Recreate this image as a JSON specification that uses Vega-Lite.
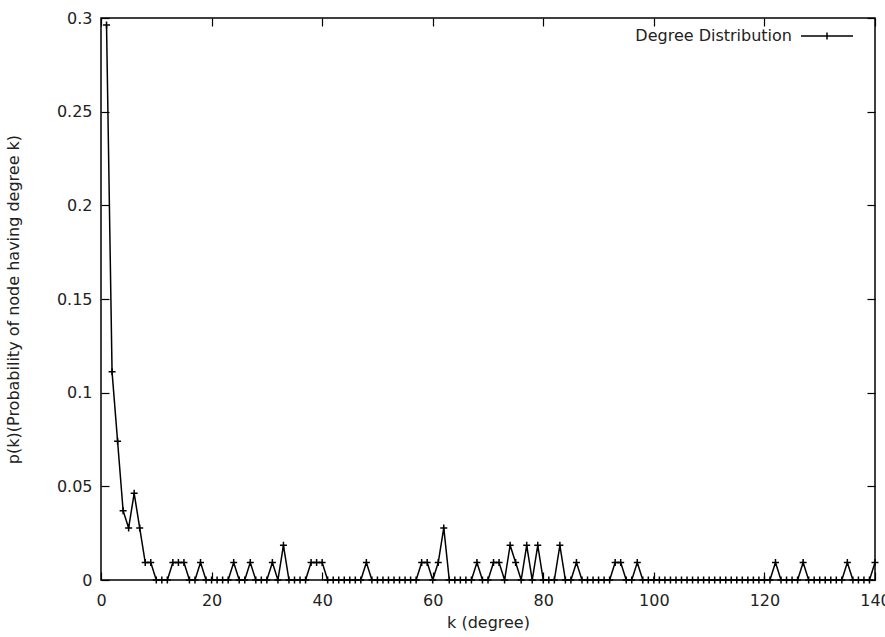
{
  "$schema": "https://vega.github.io/schema/vega-lite/v6.json",
  "width": 774,
  "height": 562,
  "autosize": "none",
  "padding": {"left": 101, "top": 18, "right": 10, "bottom": 57},
  "background": "white",
  "config": {
    "font": "DejaVu Sans",
    "view": {"stroke": "#000", "strokeWidth": 1.5},
    "axis": {
      "labelFontSize": 16,
      "titleFontSize": 16,
      "titleFontWeight": "normal",
      "labelColor": "#222",
      "titleColor": "#222",
      "tickColor": "#000",
      "tickWidth": 1.2,
      "grid": false,
      "domain": false,
      "labelFlush": false
    },
    "legend": {"labelFontSize": 16, "labelColor": "#222"}
  },
  "data": {
    "values": [
      {"k": 1, "p": 0.2963}, {"k": 2, "p": 0.1111}, {"k": 3, "p": 0.0741}, {"k": 4, "p": 0.0370},
      {"k": 5, "p": 0.0278}, {"k": 6, "p": 0.0463}, {"k": 7, "p": 0.0278}, {"k": 8, "p": 0.0093},
      {"k": 9, "p": 0.0093}, {"k": 10, "p": 0}, {"k": 11, "p": 0}, {"k": 12, "p": 0},
      {"k": 13, "p": 0.0093}, {"k": 14, "p": 0.0093}, {"k": 15, "p": 0.0093}, {"k": 16, "p": 0},
      {"k": 17, "p": 0}, {"k": 18, "p": 0.0093}, {"k": 19, "p": 0}, {"k": 20, "p": 0},
      {"k": 21, "p": 0}, {"k": 22, "p": 0}, {"k": 23, "p": 0}, {"k": 24, "p": 0.0093},
      {"k": 25, "p": 0}, {"k": 26, "p": 0}, {"k": 27, "p": 0.0093}, {"k": 28, "p": 0},
      {"k": 29, "p": 0}, {"k": 30, "p": 0}, {"k": 31, "p": 0.0093}, {"k": 32, "p": 0},
      {"k": 33, "p": 0.0185}, {"k": 34, "p": 0}, {"k": 35, "p": 0}, {"k": 36, "p": 0},
      {"k": 37, "p": 0}, {"k": 38, "p": 0.0093}, {"k": 39, "p": 0.0093}, {"k": 40, "p": 0.0093},
      {"k": 41, "p": 0}, {"k": 42, "p": 0}, {"k": 43, "p": 0}, {"k": 44, "p": 0},
      {"k": 45, "p": 0}, {"k": 46, "p": 0}, {"k": 47, "p": 0}, {"k": 48, "p": 0.0093},
      {"k": 49, "p": 0}, {"k": 50, "p": 0}, {"k": 51, "p": 0}, {"k": 52, "p": 0},
      {"k": 53, "p": 0}, {"k": 54, "p": 0}, {"k": 55, "p": 0}, {"k": 56, "p": 0},
      {"k": 57, "p": 0}, {"k": 58, "p": 0.0093}, {"k": 59, "p": 0.0093}, {"k": 60, "p": 0},
      {"k": 61, "p": 0.0093}, {"k": 62, "p": 0.0278}, {"k": 63, "p": 0}, {"k": 64, "p": 0},
      {"k": 65, "p": 0}, {"k": 66, "p": 0}, {"k": 67, "p": 0}, {"k": 68, "p": 0.0093},
      {"k": 69, "p": 0}, {"k": 70, "p": 0}, {"k": 71, "p": 0.0093}, {"k": 72, "p": 0.0093},
      {"k": 73, "p": 0}, {"k": 74, "p": 0.0185}, {"k": 75, "p": 0.0093}, {"k": 76, "p": 0},
      {"k": 77, "p": 0.0185}, {"k": 78, "p": 0}, {"k": 79, "p": 0.0185}, {"k": 80, "p": 0},
      {"k": 81, "p": 0}, {"k": 82, "p": 0}, {"k": 83, "p": 0.0185}, {"k": 84, "p": 0},
      {"k": 85, "p": 0}, {"k": 86, "p": 0.0093}, {"k": 87, "p": 0}, {"k": 88, "p": 0},
      {"k": 89, "p": 0}, {"k": 90, "p": 0}, {"k": 91, "p": 0}, {"k": 92, "p": 0},
      {"k": 93, "p": 0.0093}, {"k": 94, "p": 0.0093}, {"k": 95, "p": 0}, {"k": 96, "p": 0},
      {"k": 97, "p": 0.0093}, {"k": 98, "p": 0}, {"k": 99, "p": 0}, {"k": 100, "p": 0},
      {"k": 101, "p": 0}, {"k": 102, "p": 0}, {"k": 103, "p": 0}, {"k": 104, "p": 0},
      {"k": 105, "p": 0}, {"k": 106, "p": 0}, {"k": 107, "p": 0}, {"k": 108, "p": 0},
      {"k": 109, "p": 0}, {"k": 110, "p": 0}, {"k": 111, "p": 0}, {"k": 112, "p": 0},
      {"k": 113, "p": 0}, {"k": 114, "p": 0}, {"k": 115, "p": 0}, {"k": 116, "p": 0},
      {"k": 117, "p": 0}, {"k": 118, "p": 0}, {"k": 119, "p": 0}, {"k": 120, "p": 0},
      {"k": 121, "p": 0}, {"k": 122, "p": 0.0093}, {"k": 123, "p": 0}, {"k": 124, "p": 0},
      {"k": 125, "p": 0}, {"k": 126, "p": 0}, {"k": 127, "p": 0.0093}, {"k": 128, "p": 0},
      {"k": 129, "p": 0}, {"k": 130, "p": 0}, {"k": 131, "p": 0}, {"k": 132, "p": 0},
      {"k": 133, "p": 0}, {"k": 134, "p": 0}, {"k": 135, "p": 0.0093}, {"k": 136, "p": 0},
      {"k": 137, "p": 0}, {"k": 138, "p": 0}, {"k": 139, "p": 0}, {"k": 140, "p": 0.0093}
    ]
  },
  "layer": [
    {
      "mark": {"type": "line", "stroke": "#000", "strokeWidth": 1.5, "clip": true},
      "encoding": {
        "x": {
          "field": "k", "type": "quantitative",
          "scale": {"domain": [0, 140], "nice": false, "zero": false},
          "axis": {"orient": "bottom", "values": [0, 20, 40, 60, 80, 100, 120, 140], "tickSize": -8, "labelPadding": 20, "title": "k (degree)", "titlePadding": 6}
        },
        "y": {
          "field": "p", "type": "quantitative",
          "scale": {"domain": [0, 0.3], "nice": false},
          "axis": {"orient": "left", "values": [0, 0.05, 0.1, 0.15, 0.2, 0.25, 0.3], "format": "~g", "tickSize": -8, "labelPadding": 17, "title": "p(k)(Probability of node having degree k)", "titlePadding": 35}
        },
        "color": {
          "datum": "Degree Distribution",
          "scale": {"range": ["#000"]},
          "legend": {
            "title": null,
            "orient": "none",
            "legendX": 699,
            "legendY": -9,
            "padding": 0,
            "symbolType": "M-1,0L1,0M0,-0.13L0,0.13",
            "symbolSize": 2704,
            "symbolStrokeWidth": 1.5,
            "symbolStrokeColor": "#000",
            "labelAlign": "right",
            "labelOffset": -62
          }
        }
      }
    },
    {
      "mark": {"type": "point", "shape": "M-1,0L1,0M0,-1L0,1", "size": 49, "filled": false, "stroke": "#000", "strokeWidth": 1.5, "opacity": 1},
      "encoding": {
        "x": {
          "field": "k", "type": "quantitative",
          "scale": {"domain": [0, 140], "nice": false, "zero": false},
          "axis": {"orient": "top", "values": [0, 20, 40, 60, 80, 100, 120, 140], "tickSize": -8, "labels": false, "title": null}
        },
        "y": {
          "field": "p", "type": "quantitative",
          "scale": {"domain": [0, 0.3], "nice": false},
          "axis": {"orient": "right", "values": [0, 0.05, 0.1, 0.15, 0.2, 0.25, 0.3], "tickSize": -8, "labels": false, "title": null}
        }
      }
    }
  ],
  "resolve": {"scale": {"x": "independent", "y": "independent"}}
}
